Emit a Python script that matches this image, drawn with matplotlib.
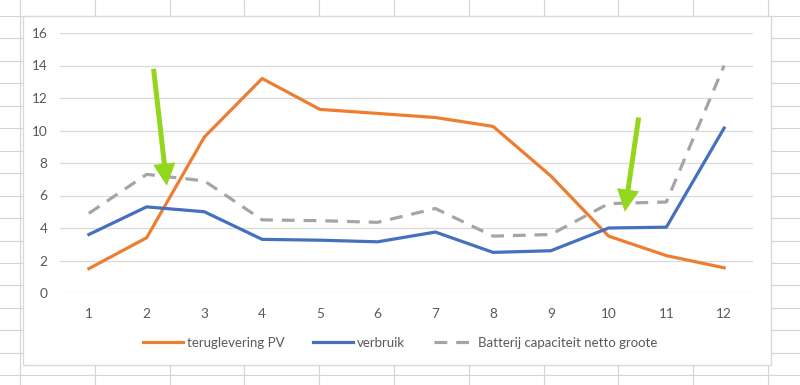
import matplotlib.pyplot as plt
from matplotlib.lines import Line2D
from matplotlib.patches import Rectangle

plt.rcParams['font.family'] = ['Lato', 'DejaVu Sans']

# data
maanden = [1, 2, 3, 4, 5, 6, 7, 8, 9, 10, 11, 12]
teruglevering = [1.5, 3.4, 9.6, 13.2, 11.3, 11.05, 10.8, 10.25, 7.2, 3.5, 2.3, 1.55]
verbruik = [3.6, 5.3, 5.0, 3.3, 3.25, 3.15, 3.75, 2.5, 2.6, 4.0, 4.05, 10.15]
batterij = [4.9, 7.3, 6.9, 4.5, 4.45, 4.35, 5.2, 3.5, 3.6, 5.5, 5.6, 14.0]
y_ticks = [0, 2, 4, 6, 8, 10, 12, 14, 16]

ORANGE = "#ED7D31"
BLUE = "#4470BE"
GRAY = "#A5A5A5"
GRID = "#D9D9D9"
TXT = "#595959"
GREEN = "#93D61E"

W, H = 800, 385
fig = plt.figure(figsize=(W / 100, H / 100), dpi=100)
fig.patch.set_facecolor("white")

def px(x, y):
    return x / W, 1 - y / H

# spreadsheet cells behind the chart
cell_col = "#D4D4D4"
for k in range(12):
    x = 20 + 74.8 * k
    fig.add_artist(Line2D([x / W, x / W], [0, 1], color=cell_col, lw=0.8, zorder=-3))
for k in range(-1, 18):
    y = 16 + 22.45 * k
    fig.add_artist(Line2D([0, 1], [1 - y / H, 1 - y / H], color=cell_col, lw=0.8, zorder=-3))

# chart area
x0, y0 = px(23, 365)
x1, y1 = px(771, 16)
fig.add_artist(Rectangle((x0, y0), x1 - x0, y1 - y0, transform=fig.transFigure,
                         facecolor="white", edgecolor=GRID, lw=1, zorder=-2))

l, b = px(60, 293)
r, t = px(753, 33)
ax = fig.add_axes([l, b, r - l, t - b])
ax.set_facecolor("none")

ax.plot(maanden, teruglevering, color=ORANGE, lw=2.3, label="teruglevering PV",
        solid_joinstyle="round", zorder=3)
ax.plot(maanden, verbruik, color=BLUE, lw=2.3, label="verbruik",
        solid_joinstyle="round", zorder=3)
ax.plot(maanden, batterij, color=GRAY, lw=2.3, dashes=(4, 2.8),
        label="Batterij capaciteit netto groote", zorder=3)

ax.set_xlim(0.5, 12.5)
ax.set_ylim(0, 16)
ax.set_xticks(maanden)
ax.set_yticks(y_ticks)
ax.yaxis.grid(True, color=GRID, lw=0.9)
ax.set_axisbelow(True)
for s in ax.spines.values():
    s.set_visible(False)
ax.tick_params(length=0, labelsize=9.8, colors=TXT)
ax.tick_params(axis="x", pad=11)
ax.tick_params(axis="y", pad=9)

# green arrows
arrow = dict(facecolor=GREEN, edgecolor="none", width=3.6, headwidth=16,
             headlength=16, shrink=0)
ax.annotate("", xy=(2.35, 6.6), xytext=(2.12, 13.8), arrowprops=arrow, zorder=5)
ax.annotate("", xy=(10.28, 5.0), xytext=(10.52, 10.8), arrowprops=arrow, zorder=5)

lx, ly = px(400, 343)
fig.legend(loc="center", bbox_to_anchor=(lx, ly), ncol=3, frameon=False,
           fontsize=9.5, labelcolor=TXT, handlelength=3.0, handletextpad=0.3,
           columnspacing=2.2)

fig.savefig("out.png", dpi=100)
